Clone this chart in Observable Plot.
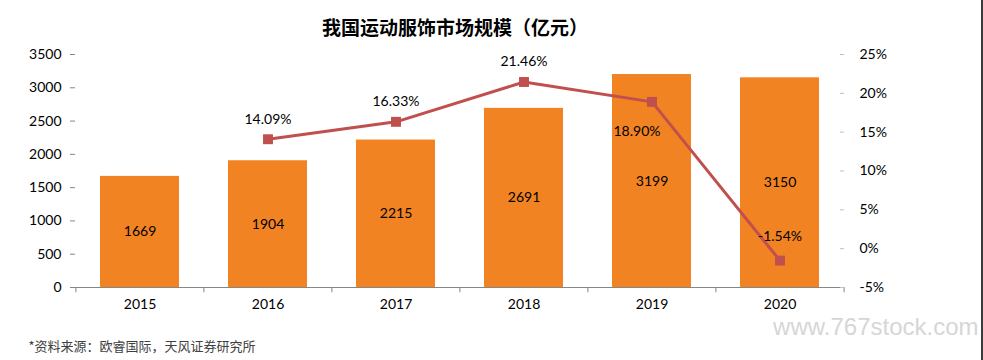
<!DOCTYPE html>
<html><head><meta charset="utf-8">
<script src="https://cdn.jsdelivr.net/npm/d3@7"></script>
<script src="https://cdn.jsdelivr.net/npm/@observablehq/plot@0.6"></script>
<style>
body{margin:0;background:#fff;}
#wrap{position:relative;width:983px;height:360px;overflow:hidden;}
#edge{position:absolute;left:981px;top:0;width:2px;height:360px;background:#3c3c3c;}
</style></head><body><div id="wrap"><div id="edge"></div></div>
<script>
// ---- data ----
const years = ["2015","2016","2017","2018","2019","2020"];
const sales = [1669,1904,2215,2691,3199,3150];           // 亿元
const growthYears = ["2016","2017","2018","2019","2020"];
const growth = [14.09,16.33,21.46,18.90,-1.54];           // %
const leftTicks = [0,500,1000,1500,2000,2500,3000,3500];
const rightTicks = [-5,0,5,10,15,20,25];
const title = "我国运动服饰市场规模（亿元）";
const source = "*资料来源：欧睿国际，天风证券研究所";
const watermark = "www.767stock.com";

// ---- derived tables ----
const leftMax = 3500, rMin = -5, rMax = 25;
const toLeft = p => (p - rMin) / (rMax - rMin) * leftMax;
const fromLeft = v => v / leftMax * (rMax - rMin) + rMin;
const bars = years.map((year, i) => ({year, value: sales[i]}));
const line = growthYears.map((year, i) => ({year, pct: growth[i]}));

const W = 983, H = 360, mL = 75, mR = 139, mT = 54, mB = 73;
const step = (W - mL - mR) / years.length;

const barColor = "#F28323", lineColor = "#C0504D", axisGray = "#868686";
const font = "Lato, 'Noto Sans CJK SC', sans-serif";
const cjk = "'Noto Sans CJK SC', sans-serif";

const chart = Plot.plot({
  width: W, height: H,
  marginLeft: mL, marginRight: mR, marginTop: mT, marginBottom: mB,
  style: {fontFamily: font, fontSize: "14px", color: "#000", background: "#fff"},
  x: {domain: years, paddingInner: 0.38, paddingOuter: 0.19, label: null},
  y: {domain: [0, leftMax], label: null},
  marks: [
    Plot.barY(bars, {x: "year", y: "value", fill: barColor}),
    Plot.text(bars, {x: "year", y: d => d.value / 2, text: d => String(d.value), fill: "#000", fontSize: 14}),
    // x axis
    Plot.ruleY([0], {stroke: axisGray}),
    Plot.ruleX(years, {x: d => d, y1: 0, y2: -80, dx: -step / 2, stroke: axisGray}),
    Plot.ruleX([years[years.length - 1]], {x: d => d, y1: 0, y2: -80, dx: step / 2, stroke: axisGray}),
    Plot.axisX({tickSize: 0, tickPadding: 12, label: null, fill: "#000", fontSize: 14}),
    // left axis
    Plot.axisY({ticks: leftTicks, tickSize: 5, tickPadding: 9, line: true, stroke: axisGray, fill: "#000", label: null, tickFormat: d => String(d), fontSize: 14}),
    // right axis
    Plot.axisY({anchor: "left", frameAnchor: "right", ticks: rightTicks.map(toLeft), tickFormat: () => "",
      tickSize: 4, stroke: "#BFBFBF", label: null}),
    Plot.axisY({anchor: "right", ticks: rightTicks.map(toLeft), tickFormat: v => Math.round(fromLeft(v)) + "%",
      tickSize: 0, tickPadding: 15, line: true, stroke: "#BFBFBF", strokeWidth: 2, fill: "#000", label: null, fontSize: 14}),
    // growth line
    Plot.line(line, {x: "year", y: d => toLeft(d.pct), stroke: lineColor, strokeWidth: 3}),
    Plot.dot(line, {x: "year", y: d => toLeft(d.pct), symbol: "square", r: 5.6, fill: lineColor}),
    Plot.text(line.slice(0, 3), {x: "year", y: d => toLeft(d.pct), text: d => d.pct.toFixed(2) + "%", dy: -20, fontSize: 14}),
    Plot.text(line.slice(3, 4), {x: "year", y: d => toLeft(d.pct), text: d => d.pct.toFixed(2) + "%", dx: -15, dy: 30, fontSize: 14}),
    Plot.text(line.slice(4, 5), {x: "year", y: d => toLeft(d.pct), text: d => d.pct.toFixed(2) + "%", dy: -24, fontSize: 14}),
    // title / source / watermark
    Plot.text([title], {frameAnchor: "top", dx: -5, dy: -33, fontSize: 19, fontWeight: "bold", fontFamily: cjk, fill: "#000"}),
    Plot.text([source], {frameAnchor: "bottom-left", textAnchor: "start", dx: -47, dy: 63, fontSize: 13, fontFamily: cjk, fill: "#404040"}),
    Plot.text([watermark], {frameAnchor: "bottom-right", textAnchor: "end", dx: 134, dy: 47, fontSize: 24, fontFamily: "'Liberation Sans', sans-serif", fill: "#d6d6d6"})
  ]
});
document.getElementById("wrap").prepend(chart);
</script></body></html>
